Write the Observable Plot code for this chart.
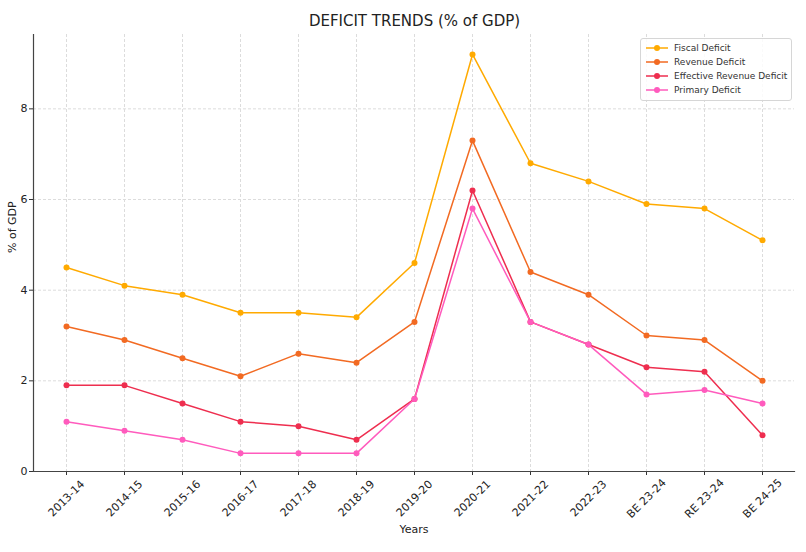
<!DOCTYPE html>
<html>
<head>
<meta charset="utf-8">
<script src="https://cdn.jsdelivr.net/npm/d3@7"></script>
<script src="https://cdn.jsdelivr.net/npm/@observablehq/plot@0.6"></script>
<style>
  html, body { margin: 0; padding: 0; background: #fff; }
  #wrap { position: relative; width: 806px; height: 552px; font-family: "DejaVu Sans", sans-serif; }
  #title { position: absolute; left: 33px; width: 763px; top: 12px; text-align: center; font-size: 15px; color: #222; }
  #legend { position: absolute; left: 640px; top: 38px; width: 150px; padding: 2px 0 3px 0; border: 1px solid #d6d6d6; border-radius: 3px; background: rgba(255,255,255,0.85); font-size: 9px; color: #333; }
  #legend .row { display: flex; align-items: center; height: 14px; white-space: nowrap; }
  #legend svg { margin-left: 5px; margin-right: 6px; flex: none; }
</style>
</head>
<body>
<div id="wrap">
  <div id="chart"></div>
  <div id="title">DEFICIT TRENDS (% of GDP)</div>
  <div id="legend"></div>
</div>
<script>
const years = ["2013-14","2014-15","2015-16","2016-17","2017-18","2018-19","2019-20","2020-21","2021-22","2022-23","BE 23-24","RE 23-24","BE 24-25"];
const seriesNames = ["Fiscal Deficit","Revenue Deficit","Effective Revenue Deficit","Primary Deficit"];
const seriesColors = ["#ffaa00","#f26a22","#ee2e4f","#ff5bbd"];
const fiscalDeficit = [4.5,4.1,3.9,3.5,3.5,3.4,4.6,9.2,6.8,6.4,5.9,5.8,5.1];
const revenueDeficit = [3.2,2.9,2.5,2.1,2.6,2.4,3.3,7.3,4.4,3.9,3.0,2.9,2.0];
const effectiveRevenueDeficit = [1.9,1.9,1.5,1.1,1.0,0.7,1.6,6.2,3.3,2.8,2.3,2.2,0.8];
const primaryDeficit = [1.1,0.9,0.7,0.4,0.4,0.4,1.6,5.8,3.3,2.8,1.7,1.8,1.5];
const yTicks = [0,2,4,6,8];

const allSeries = [fiscalDeficit, revenueDeficit, effectiveRevenueDeficit, primaryDeficit];
const rows = [];
allSeries.forEach((vals, si) => vals.forEach((v, i) => rows.push({year: years[i], value: v, series: seriesNames[si]})));

const chart = Plot.plot({
  width: 806,
  height: 552,
  marginTop: 34,
  marginLeft: 33,
  marginRight: 12,
  marginBottom: 81,
  style: {fontFamily: "DejaVu Sans, sans-serif", fontSize: "11px", color: "#222", background: "#fff"},
  x: {type: "point", domain: years, padding: 0.5, label: null},
  y: {domain: [0, 9.64], label: null},
  color: {domain: seriesNames, range: seriesColors},
  marks: [
    Plot.gridX(years, {stroke: "#dcdcdc", strokeOpacity: 1, strokeWidth: 1, strokeDasharray: "3,2"}),
    Plot.gridY(yTicks, {stroke: "#dcdcdc", strokeOpacity: 1, strokeWidth: 1, strokeDasharray: "3,2"}),
    Plot.axisY(yTicks, {tickSize: 4, tickPadding: 2, fontSize: 11, label: null, stroke: "#333"}),
    Plot.axisX(years, {tickSize: 4, tickFormat: () => "", label: null, stroke: "#333"}),
    Plot.text(years, {x: d => d, frameAnchor: "bottom", dy: 27, rotate: -45, textAnchor: "middle", lineAnchor: "middle", fontSize: 11, fill: "#222"}),
    Plot.text(["Years"], {frameAnchor: "bottom", dy: 61, fontSize: 11, fill: "#222"}),
    Plot.text(["% of GDP"], {frameAnchor: "left", dx: -21, rotate: -90, fontSize: 11, fill: "#222"}),
    Plot.frame({anchor: "left", stroke: "#444", strokeWidth: 1.2}),
    Plot.frame({anchor: "bottom", stroke: "#444", strokeWidth: 1.2}),
    Plot.line(rows, {x: "year", y: "value", z: "series", stroke: "series", strokeWidth: 1.5}),
    Plot.dot(rows, {x: "year", y: "value", fill: "series", r: 3})
  ]
});
document.getElementById("chart").appendChild(chart);

const legend = document.getElementById("legend");
seriesNames.forEach((name, i) => {
  const row = document.createElement("div");
  row.className = "row";
  row.innerHTML = `<svg width="22" height="8"><line x1="0" y1="4" x2="22" y2="4" stroke="${seriesColors[i]}" stroke-width="1.5"/><circle cx="11" cy="4" r="3" fill="${seriesColors[i]}"/></svg><span>${name}</span>`;
  legend.appendChild(row);
});
</script>
</body>
</html>
